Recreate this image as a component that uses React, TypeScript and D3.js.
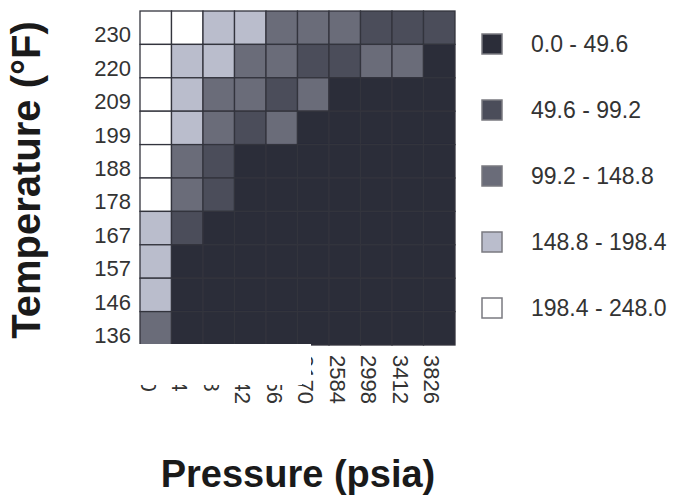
import React from "react";
import * as d3 from "d3";

// Axis categories
const pressures = [100, 514, 928, 1342, 1756, 2170, 2584, 2998, 3412, 3826];
const temperatures = [230, 220, 209, 199, 188, 178, 167, 157, 146, 136];

// Cell values, one array per temperature row (left to right = pressures)
const t230 = [248.0, 226, 182, 171, 126, 134, 143, 87, 81, 92];
const t220 = [234, 178, 165, 108, 139, 76, 97, 117, 121, 42];
const t209 = [229, 170, 104, 121, 93, 129, 38, 33, 35, 31];
const t199 = [222, 164, 101, 86, 118, 44, 36, 31, 29, 27];
const t188 = [214, 112, 72, 35, 28, 26, 24, 22, 21, 20];
const t178 = [207, 109, 68, 33, 27, 25, 23, 21, 20, 19];
const t167 = [181, 64, 31, 26, 24, 22, 21, 19, 18, 17];
const t157 = [174, 36, 27, 24, 22, 20, 19, 18, 17, 16];
const t146 = [166, 33, 25, 22, 20, 19, 18, 17, 16, 15];
const t136 = [122, 30, 23, 21, 19, 18, 17, 16, 15, 0.0];
const rows = [t230, t220, t209, t199, t188, t178, t167, t157, t146, t136];

// Legend classes
const breaks = [49.6, 99.2, 148.8, 198.4];
const classLabels = ["0.0 - 49.6", "49.6 - 99.2", "99.2 - 148.8", "148.8 - 198.4", "198.4 - 248.0"];
const classColors = ["#2b2d39", "#4b4d5a", "#6a6c79", "#babdcc", "#ffffff"];

const FONT = "'Liberation Sans', Arial, sans-serif";

export default function App() {
  const x = d3.scaleBand<number>().domain(pressures).range([140, 455]);
  const y = d3.scaleBand<number>().domain(temperatures).range([11, 345]);
  const color = d3.scaleThreshold<number, string>().domain(breaks).range(classColors);
  const ly = d3.scalePoint<number>().domain(d3.range(classLabels.length)).range([44, 308]);

  const cells = rows.flatMap((row, i) =>
    row.map((v, j) => ({ t: temperatures[i], p: pressures[j], v }))
  );

  return (
    <svg width={678} height={504} style={{ position: "absolute", left: 0, top: 0, background: "#fff" }}>
      <rect width={678} height={504} fill="#fff" />
      {/* heatmap cells */}
      <g>
        {cells.map((c, k) => (
          <rect
            key={k}
            x={x(c.p)}
            y={y(c.t)}
            width={x.bandwidth()}
            height={y.bandwidth()}
            fill={color(c.v)}
            stroke="#33343d"
            strokeWidth={1.3}
          />
        ))}
      </g>
      {/* y tick labels */}
      <g fontFamily={FONT} fontSize={22} fill="#333" textAnchor="end">
        {temperatures.map((t) => (
          <text key={t} x={131} y={(y(t) as number) + y.bandwidth() - 2}>
            {t}
          </text>
        ))}
      </g>
      {/* x tick labels, rotated */}
      <g fontFamily={FONT} fontSize={22} fill="#333">
        {pressures.map((p) => {
          const cx = (x(p) as number) + x.bandwidth() / 2 - 7 - 8;
          return (
            <text key={p} transform={`translate(${cx},355) rotate(90)`}>
              {p}
            </text>
          );
        })}
      </g>
      {/* white patch that hides part of the lower tick labels */}
      <rect x={128} y={344} width={174} height={41} fill="#fff" />
      <rect x={302} y={344} width={9} height={33} fill="#fff" />
      {/* axis titles */}
      <text
        transform="translate(40,180) rotate(-90)"
        textAnchor="middle"
        fontFamily={FONT}
        fontWeight="bold"
        fontSize={40}
        fill="#1a1a1a"
      >
        Temperature (°F)
      </text>
      <text x={298} y={487} textAnchor="middle" fontFamily={FONT} fontWeight="bold" fontSize={38} fill="#1a1a1a">
        Pressure (psia)
      </text>
      {/* legend */}
      <g fontFamily={FONT} fontSize={23} fill="#333">
        {classLabels.map((lab, i) => {
          const cy = ly(i) as number;
          return (
            <g key={lab}>
              <rect x={482} y={cy - 10} width={20} height={20} fill={classColors[i]} stroke="#7a7a80" strokeWidth={1.5} />
              <text x={531} y={cy + 8}>
                {lab}
              </text>
            </g>
          );
        })}
      </g>
    </svg>
  );
}
